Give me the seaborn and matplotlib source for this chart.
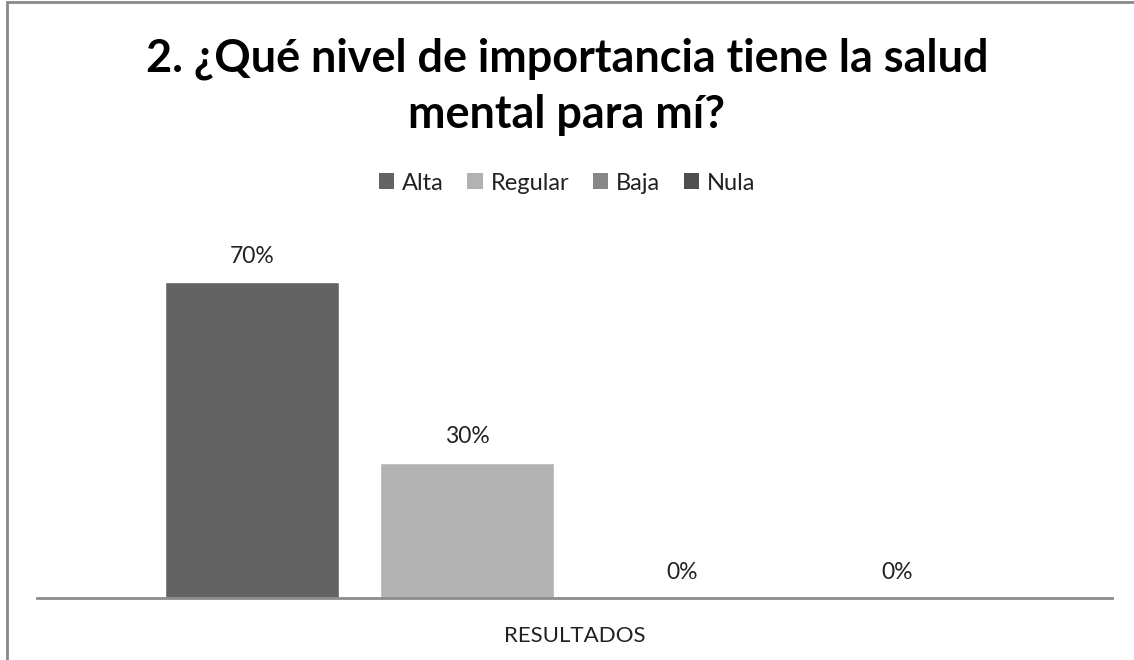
import matplotlib
matplotlib.use("Agg")
import matplotlib.pyplot as plt
import seaborn as sns
import pandas as pd
from matplotlib.patches import Rectangle, Patch

categories = ["RESULTADOS"]
series = ["Alta", "Regular", "Baja", "Nula"]
values = [0.70, 0.30, 0.0, 0.0]
labels = ["70%", "30%", "0%", "0%"]
colors = ["#636363", "#b2b2b2", "#878787", "#4f4f4f"]
title_lines = ["2. ¿Qué nivel de importancia tiene la salud", "mental para mí?"]

df = pd.DataFrame({"cat": categories * len(series), "serie": series, "val": values})

sns.set_theme(style="white")
plt.rcParams["font.family"] = ["Lato", "DejaVu Sans"]

W, H = 1134, 660
fig = plt.figure(figsize=(W / 100, H / 100), dpi=100)
ax = fig.add_axes([37 / W, 1 - 598 / H, (1112 - 37) / W, (598 - 237) / H])

sns.barplot(data=df, x="cat", y="val", hue="serie", palette=colors, ax=ax,
            width=0.8, gap=0.195, legend=False, saturation=1)
ax.set_ylim(0, 0.8)
ax.set_xlim(-0.5, 0.5)

for cont, lab in zip(ax.containers, labels):
    ax.bar_label(cont, labels=[lab], padding=11, fontsize=16.5, color="#222222")

for s in ["top", "right", "left"]:
    ax.spines[s].set_visible(False)
ax.spines["bottom"].set_color("#8c8c8c")
ax.spines["bottom"].set_linewidth(2)
ax.set_yticks([])
ax.set_xlabel("")
ax.set_ylabel("")
ax.tick_params(axis="x", length=0, pad=20, labelsize=16, labelcolor="#222222")

handles = [Patch(facecolor=c, edgecolor="none") for c in colors]
fig.legend(handles, series, loc="center", bbox_to_anchor=(0.5, 1 - 183 / H),
           ncol=4, frameon=False, fontsize=17, handlelength=0.65, handleheight=0.65,
           handletextpad=0.33, columnspacing=1.0, labelcolor="#222222")

fig.text(0.5, 1 - 72 / H, title_lines[0], ha="center", va="baseline",
         fontsize=32.4, fontweight="bold", color="#000000")
fig.text(0.5, 1 - 128 / H, title_lines[1], ha="center", va="baseline",
         fontsize=32.4, fontweight="bold", color="#000000")

fig.add_artist(Rectangle((7 / W, -0.1), 1.2, 1 - 2 / H + 0.1, transform=fig.transFigure,
                         fill=False, edgecolor="#888888", linewidth=2))

fig.savefig("out.png", dpi=100, facecolor="white")
